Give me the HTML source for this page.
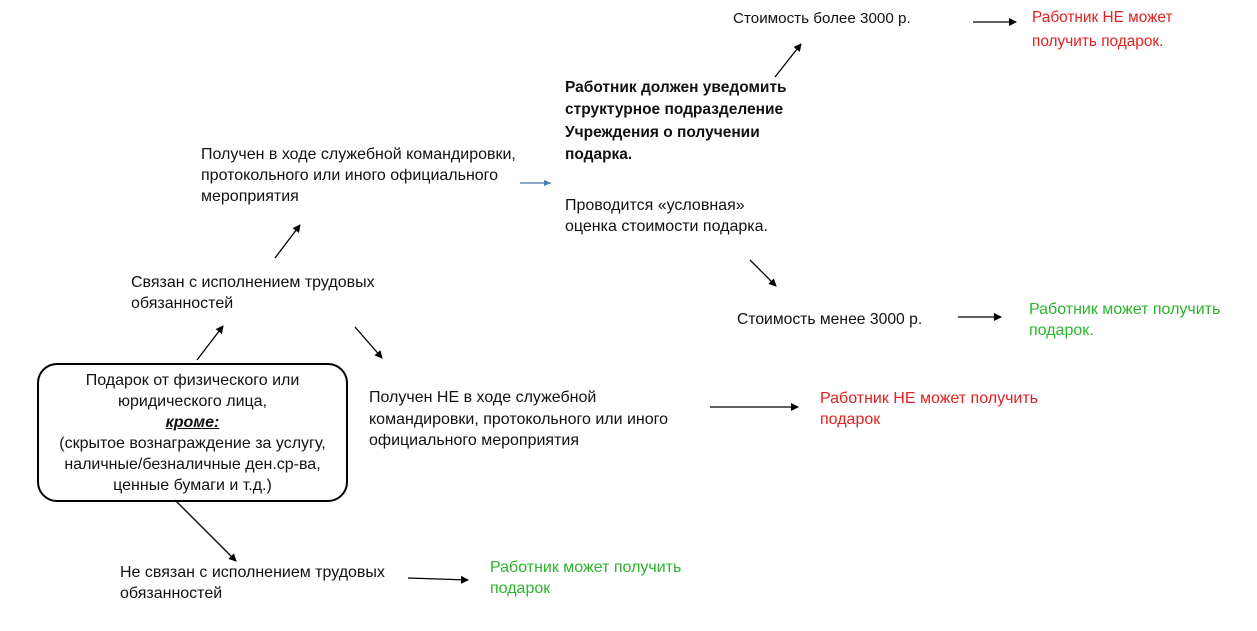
<!DOCTYPE html>
<html><head><meta charset="utf-8"><style>
body{margin:0;width:1257px;height:631px;background:#fff;position:relative;overflow:hidden;font-family:"Liberation Sans","DejaVu Sans",sans-serif;font-size:16px;color:#111}
.t{position:absolute;line-height:21.5px;white-space:nowrap}
.r{color:#e32020}.g{color:#2ab52a}.b{font-weight:bold}
.box{position:absolute;left:37px;top:363px;width:307px;height:130px;border:2px solid #000;border-radius:20px;text-align:center;line-height:21px;padding-top:5px;box-sizing:content-box;white-space:nowrap}
</style></head><body>
<svg width="1257" height="631" style="position:absolute;left:0;top:0">
<defs><marker id="a" markerWidth="8" markerHeight="8" refX="7" refY="4" orient="auto" markerUnits="userSpaceOnUse"><path d="M0,0 L8,4 L0,8 z" fill="#000"/></marker>
<marker id="ab" markerWidth="8" markerHeight="8" refX="7" refY="4" orient="auto" markerUnits="userSpaceOnUse"><path d="M0,1 L7,4 L0,7 z" fill="#4a7ab0"/></marker></defs>
<g stroke="#000" stroke-width="1.3" fill="none" marker-end="url(#a)">
<line x1="775" y1="77" x2="801" y2="44"/>
<line x1="973" y1="22" x2="1016" y2="22"/>
<line x1="750" y1="260" x2="776" y2="286"/>
<line x1="958" y1="317" x2="1001" y2="317"/>
<line x1="275" y1="258" x2="300" y2="225"/>
<line x1="197" y1="360" x2="223" y2="326"/>
<line x1="355" y1="327" x2="382" y2="358"/>
<line x1="710" y1="407" x2="798" y2="407"/>
<line x1="175" y1="500" x2="236" y2="561"/>
<line x1="408" y1="578" x2="468" y2="580"/>
</g>
<line x1="520" y1="183" x2="551" y2="183" stroke="#4a7ab0" stroke-width="1.3" marker-end="url(#ab)"/>
</svg>
<div class="t" style="left:733px;top:8px;font-size:15.2px">Стоимость более 3000 р.</div>
<div class="t r" style="left:1032px;top:6px;font-size:15.4px;line-height:24px">Работник НЕ может<br>получить подарок.</div>
<div class="t b" style="left:565px;top:77px;line-height:22.3px;font-size:15.5px">Работник должен уведомить<br>структурное подразделение<br>Учреждения о получении<br>подарка.</div>
<div class="t" style="left:201px;top:144px;line-height:21px">Получен в ходе служебной командировки,<br>протокольного или иного официального<br>мероприятия</div>
<div class="t" style="left:565px;top:195px;line-height:21px">Проводится «условная»<br>оценка стоимости подарка.</div>
<div class="t" style="left:737px;top:309px;font-size:15.7px">Стоимость менее 3000 р.</div>
<div class="t g" style="left:1029px;top:299px;line-height:21px">Работник может получить<br>подарок.</div>
<div class="t" style="left:131px;top:272px;line-height:21px">Связан с исполнением трудовых<br>обязанностей</div>
<div class="box">Подарок от физического или<br>юридического лица,<br><b><i><u>кроме:</u></i></b><br>(скрытое вознаграждение за услугу,<br>наличные/безналичные ден.ср-ва,<br>ценные бумаги и т.д.)</div>
<div class="t" style="left:369px;top:387px">Получен НЕ в ходе служебной<br>командировки, протокольного или иного<br>официального мероприятия</div>
<div class="t r" style="left:820px;top:388px;line-height:21px">Работник НЕ может получить<br>подарок</div>
<div class="t" style="left:120px;top:563px;line-height:20.5px">Не связан с исполнением трудовых<br>обязанностей</div>
<div class="t g" style="left:490px;top:557px;line-height:21px">Работник может получить<br>подарок</div>
</body></html>
